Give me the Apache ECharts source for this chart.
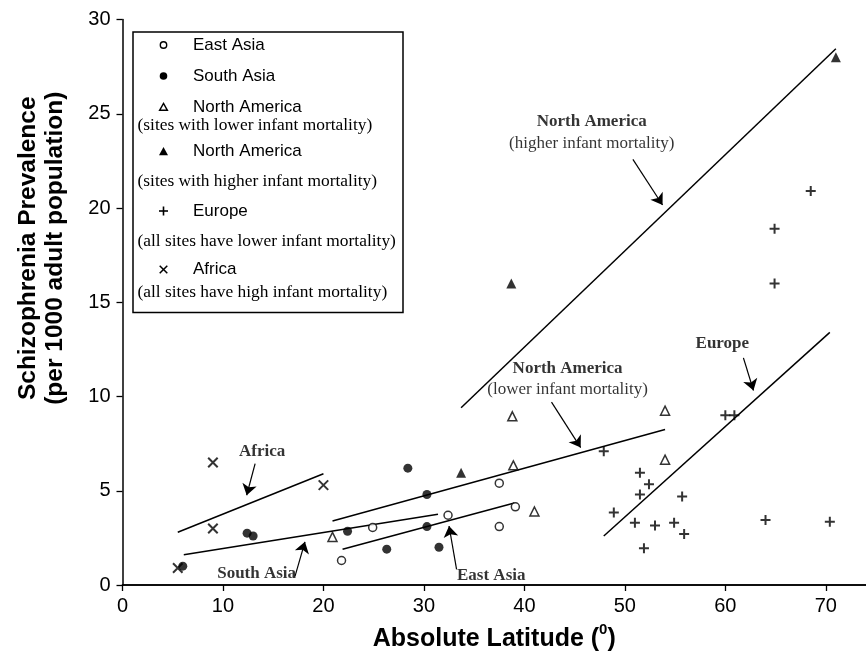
<!DOCTYPE html>
<html>
<head>
<meta charset="utf-8">
<script src="https://cdn.jsdelivr.net/npm/echarts@6/dist/echarts.min.js"></script>
<style>
html,body{margin:0;padding:0;background:#fff;}
#chart{width:866px;height:663px;}
</style>
</head>
<body>
<div id="chart"></div>
<script>
// ---- data (absolute latitude, prevalence per 1000) ----
const eastAsia = [[21.8,1.3],[24.9,3.05],[32.4,3.7],[37.5,5.4],[37.5,3.1],[39.1,4.15]];
const southAsia = [[6.0,1.0],[12.4,2.75],[13.0,2.6],[22.4,2.85],[26.3,1.9],[28.4,6.2],[30.3,4.8],[30.3,3.1],[31.5,2.0]];
const naLower = [[20.9,2.55],[38.8,8.95],[38.9,6.35],[41.0,3.9],[54.0,9.25],[54.0,6.65]];
const naHigher = [[33.7,5.95],[38.7,16.0],[71.0,28.0]];
const europe = [[47.9,7.1],[60.0,9.0],[60.9,9.0],[51.5,5.95],[52.4,5.35],[51.5,4.8],[55.7,4.7],[48.9,3.85],[51.0,3.3],[53.0,3.15],[54.9,3.3],[55.9,2.7],[51.9,1.95],[64.0,3.45],[70.4,3.35],[68.5,20.9],[64.9,18.9],[64.9,16.0]];
const africa = [[5.5,0.9],[9.0,3.0],[9.0,6.5],[20.0,5.3]];

// regression lines
const fitAfrica = [[5.5,2.8],[20.0,5.9]];
const fitSouthAsia = [[6.1,1.6],[31.4,3.75]];
const fitEastAsia = [[21.9,1.9],[39.0,4.35]];
const fitNALower = [[20.9,3.4],[54.0,8.25]];
const fitNAHigher = [[33.7,9.4],[71.0,28.45]];
const fitEurope = [[47.9,2.6],[70.4,13.4]];

// annotation labels [x, y, title, subtitle]
const annotations = [
  [13.9, 7.1, 'Africa', ''],
  [13.35, 0.62, 'South Asia', ''],
  [36.7, 0.48, 'East Asia', ''],
  [44.3, 10.93, 'North America', '(lower infant mortality)'],
  [46.7, 24.0, 'North America', '(higher infant mortality)'],
  [59.7, 12.82, 'Europe', '']
];
// arrows [from, to]
const arrows = [
  [[13.2,6.44],[12.36,4.76]],
  [[17.16,0.44],[18.16,2.29]],
  [[33.25,0.83],[32.5,3.13]],
  [[42.7,9.7],[45.6,7.29]],
  [[50.8,22.58],[53.75,20.16]],
  [[61.8,12.05],[62.8,10.32]]
];

const xTicks = [0,10,20,30,40,50,60,70];
const yTicks = [0,5,10,15,20,25,30];

const SANS = 'Liberation Sans, Arial, sans-serif';
const SERIF = 'Liberation Serif, Times New Roman, serif';
const PLUS = 'path://M0,5L10,5M5,0L5,10';
const CROSS = 'path://M0,0L10,10M10,0L0,10';

const chart = echarts.init(document.getElementById('chart'), null, {renderer:'canvas'});

function scatter(name, data, symbol, size, filled, stroke) {
  return {
    name, type:'scatter', data, symbol, symbolSize:size,
    itemStyle: filled
      ? {color:'#000', borderColor:'#000', borderWidth:0}
      : (stroke ? {color:'rgba(0,0,0,0)', borderColor:'#000', borderWidth:2}
                : {color:'#fff', borderColor:'#000', borderWidth:1.5}),
    z:5, silent:true
  };
}
function fit(data) {
  return {type:'line', data, symbol:'none', lineStyle:{color:'#000', width:1.5}, silent:true, z:3};
}

// legend (drawn as graphic)
const LX = 163.5, TX = 193, SX = 137.5;
const legendRows = [
  {y:45, label:'East Asia', mark:'ocircle'},
  {y:76, label:'South Asia', mark:'fcircle'},
  {y:107, label:'North America', mark:'otri'},
  {y:151.5, label:'North America', mark:'ftri'},
  {y:211, label:'Europe', mark:'plus'},
  {y:269.5, label:'Africa', mark:'cross'}
];
const legendSubs = [
  {y:125.5, text:'(sites with lower infant mortality)'},
  {y:181.5, text:'(sites with higher infant mortality)'},
  {y:241, text:'(all sites have lower infant mortality)'},
  {y:292, text:'(all sites have high infant mortality)'}
];
function legendMark(kind, cx, cy) {
  switch(kind) {
    case 'ocircle': return [{type:'circle', shape:{cx,cy,r:3.2}, style:{fill:'#fff', stroke:'#000', lineWidth:1.4}}];
    case 'fcircle': return [{type:'circle', shape:{cx,cy,r:3.8}, style:{fill:'#000'}}];
    case 'otri': return [{type:'polygon', shape:{points:[[cx,cy-3.6],[cx+3.9,cy+3.3],[cx-3.9,cy+3.3]]}, style:{fill:'#fff', stroke:'#000', lineWidth:1.4}}];
    case 'ftri': return [{type:'polygon', shape:{points:[[cx,cy-4.5],[cx+4.5,cy+3.8],[cx-4.5,cy+3.8]]}, style:{fill:'#000'}}];
    case 'plus': return [
      {type:'line', shape:{x1:cx-4.5,y1:cy,x2:cx+4.5,y2:cy}, style:{stroke:'#000', lineWidth:1.6}},
      {type:'line', shape:{x1:cx,y1:cy-4.5,x2:cx,y2:cy+4.5}, style:{stroke:'#000', lineWidth:1.6}}];
    case 'cross': return [
      {type:'line', shape:{x1:cx-3.8,y1:cy-3.8,x2:cx+3.8,y2:cy+3.8}, style:{stroke:'#000', lineWidth:1.5}},
      {type:'line', shape:{x1:cx+3.8,y1:cy-3.8,x2:cx-3.8,y2:cy+3.8}, style:{stroke:'#000', lineWidth:1.5}}];
  }
}
const graphics = [
  {type:'rect', shape:{x:133, y:32, width:270, height:280.5}, style:{fill:'#fff', stroke:'#000', lineWidth:1.5}, z:10}
];
legendRows.forEach(r => {
  legendMark(r.mark, LX, r.y).forEach(m => { m.z = 11; graphics.push(m); });
  graphics.push({type:'text', x:TX, y:r.y, z:11, style:{text:r.label, font:'17px '+SANS, fill:'#000', verticalAlign:'middle'}});
});
legendSubs.forEach(s => {
  graphics.push({type:'text', x:SX, y:s.y, z:11, style:{text:s.text, font:'17.4px '+SERIF, fill:'#000', verticalAlign:'middle'}});
});

const option = {
  animation:false,
  backgroundColor:'#fff',
  grid:{left:122.5, right:0, top:19.5, bottom:78, containLabel:false},
  xAxis:[{
    type:'value', min:0, max:74, interval:10,
    axisLine:{show:true, onZero:false, lineStyle:{color:'#000', width:1.5}},
    axisTick:{show:true, length:6, lineStyle:{color:'#000', width:1.3}, customValues:xTicks},
    axisLabel:{color:'#000', fontFamily:SANS, fontSize:20, margin:11, customValues:xTicks},
    splitLine:{show:false},
    name:'{a|Absolute Latitude (}{s|0}{a|)}', nameLocation:'middle', nameGap:37,
    nameTextStyle:{rich:{
      a:{fontFamily:SANS, fontWeight:'bold', fontSize:25, color:'#000', verticalAlign:'bottom', lineHeight:30},
      s:{fontFamily:SANS, fontWeight:'bold', fontSize:15, color:'#000', verticalAlign:'top', lineHeight:30, padding:[0,0,12,0]}
    }}
  },{
    type:'value', min:0, max:74, position:'top',
    axisLine:{show:true, lineStyle:{color:'#000', width:1.5}},
    axisTick:{show:false}, axisLabel:{show:false}, splitLine:{show:false}
  }],
  yAxis:{
    type:'value', min:0, max:30, interval:5,
    axisLine:{show:true, onZero:false, lineStyle:{color:'#000', width:1.5}},
    axisTick:{show:true, length:6, lineStyle:{color:'#000', width:1.3}, customValues:yTicks},
    axisLabel:{color:'#000', fontFamily:SANS, fontSize:20, margin:12, customValues:yTicks},
    splitLine:{show:false},
    name:'Schizophrenia Prevalence\n(per 1000 adult population)', nameLocation:'middle', nameGap:54,
    nameTextStyle:{fontFamily:SANS, fontWeight:'bold', fontSize:24.5, lineHeight:27, color:'#000', padding:[0,0,0,108]}
  },
  graphic:graphics,
  series:[
    scatter('East Asia', eastAsia, 'circle', 8, false, false),
    scatter('South Asia', southAsia, 'circle', 9, true, false),
    scatter('North America (lower)', naLower, 'triangle', 9, false, false),
    scatter('North America (higher)', naHigher, 'triangle', 10, true, false),
    scatter('Europe', europe, PLUS, 10, false, true),
    scatter('Africa', africa, CROSS, 9.5, false, true),
    fit(fitAfrica), fit(fitSouthAsia), fit(fitEastAsia), fit(fitNALower), fit(fitNAHigher),
    Object.assign(fit(fitEurope), {
      markLine:{
        silent:true, symbol:['none','arrow'], symbolSize:11, animation:false,
        label:{show:false}, itemStyle:{color:'#000'},
        lineStyle:{color:'#000', width:1.2, type:'solid'},
        emphasis:{disabled:true},
        data: arrows.map(a => [{coord:a[0]},{coord:a[1]}])
      }
    }),
    {
      type:'scatter', data:annotations, symbol:'circle', symbolSize:1, silent:true, z:6,
      itemStyle:{color:'rgba(0,0,0,0)'},
      label:{show:true, position:'inside', align:'center', verticalAlign:'middle',
        formatter: p => p.data[3] ? '{t|'+p.data[2]+'}\n{s|'+p.data[3]+'}' : '{t|'+p.data[2]+'}',
        rich:{
          t:{fontFamily:SERIF, fontWeight:'bold', fontSize:17, lineHeight:21, color:'#000', align:'center'},
          s:{fontFamily:SERIF, fontSize:17, lineHeight:21, color:'#000', align:'center'}
        }
      }
    }
  ]
};
chart.setOption(option);
</script>
</body>
</html>
